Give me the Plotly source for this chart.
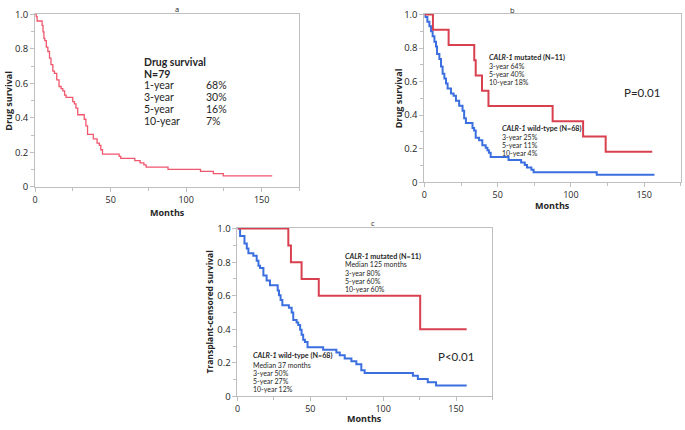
import plotly.graph_objects as go

W, H = 685, 430

# ---------------- data ----------------
x_ticks = [0, 50, 100, 150]
x_minor = [25, 75, 125, 175]
y_ticks = [0, 0.2, 0.4, 0.6, 0.8, 1.0]
y_ticklabels = ["0", "0.2", "0.4", "0.6", "0.8", "1.0"]
y_minor = [0.1, 0.3, 0.5, 0.7, 0.9]

# panel a: all patients (N=79)
a_months = [0, 0.7, 1.3, 4.6, 5.2, 5.8, 6.4, 7.4, 8.4, 9.5, 10.5, 11.7, 12.8, 14.3, 15.8,
            17.2, 18.3, 19.5, 20.5, 24.9, 26.0, 27.0, 28.2, 32.5, 33.6, 34.7, 38.5, 41.0,
            42.5, 43.5, 44.6, 55.6, 56.7, 66.0, 69.5, 72.0, 73.5, 88.0, 109.5, 118.0, 124.6, 157.0]
a_surv = [1.0, 0.987, 0.962, 0.937, 0.899, 0.861, 0.848, 0.81, 0.785, 0.747, 0.709, 0.671,
          0.658, 0.62, 0.582, 0.57, 0.557, 0.532, 0.519, 0.494, 0.481, 0.456, 0.418, 0.392,
          0.354, 0.304, 0.278, 0.253, 0.24, 0.215, 0.19, 0.177, 0.165, 0.152, 0.139, 0.127,
          0.114, 0.101, 0.089, 0.076, 0.063, 0.063]

# panel b: drug survival by CALR-1 status
b_mut_months = [0, 5.8, 16.5, 34.0, 35.0, 39.3, 43.7, 87.5, 108.3, 123.7, 155.5]
b_mut_surv = [1.0, 0.909, 0.818, 0.727, 0.636, 0.545, 0.455, 0.364, 0.273, 0.182, 0.182]

b_wt_months = [0, 0.5, 2, 3.4, 4.5, 5.6, 6.8, 7.9, 8.6, 10.2, 11.3, 12.4, 13.6, 14.7, 15.8,
               18.1, 19.9, 21.5, 23.7, 26.0, 27.1, 28.3, 32.8, 33.9, 35.0, 37.3, 39.5, 41.8,
               43.0, 44.0, 45.2, 57.4, 66, 68.5, 70, 73, 74.5, 117.6, 157]
b_wt_surv = [1.0, 0.985, 0.956, 0.93, 0.90, 0.87, 0.838, 0.809, 0.765, 0.735, 0.69, 0.647,
             0.618, 0.588, 0.559, 0.529, 0.515, 0.485, 0.456, 0.426, 0.382, 0.353, 0.324,
             0.309, 0.265, 0.25, 0.221, 0.206, 0.191, 0.176, 0.15, 0.132, 0.118, 0.103,
             0.088, 0.074, 0.059, 0.045, 0.045]

# panel c: transplant-censored survival by CALR-1 status
c_mut_months = [0, 34.9, 36.7, 44.0, 55.8, 125.4, 157.3]
c_mut_surv = [1.0, 0.9, 0.8, 0.7, 0.6, 0.4, 0.4]

c_wt_months = [0, 1.8, 4.8, 6.4, 7.5, 10.9, 13.2, 14.4, 15.5, 17.8, 20.0, 22.3, 27.6, 28.5,
               29.6, 30.8, 35.3, 37.2, 38.3, 40.6, 41.7, 43.0, 44.0, 45.1, 46.3, 48.1, 58.8,
               67.9, 70.2, 73.6, 78.2, 81.6, 85.0, 87.3, 120.4, 123.8, 130.6, 136.3, 157.3]
c_wt_surv = [1.0, 0.956, 0.912, 0.882, 0.853, 0.838, 0.809, 0.779, 0.765, 0.721, 0.691,
             0.662, 0.632, 0.603, 0.574, 0.544, 0.529, 0.50, 0.456, 0.441, 0.426, 0.397,
             0.368, 0.338, 0.324, 0.294, 0.279, 0.262, 0.245, 0.227, 0.21, 0.192, 0.157,
             0.14, 0.124, 0.104, 0.085, 0.066, 0.066]

a_rows = [("1-year", "68%"), ("3-year", "30%"), ("5-year", "16%"), ("10-year", "7%")]
b_mut_rows = ["3-year 64%", "5-year 40%", "10-year 18%"]
b_wt_rows = ["3-year 25%", "5-year 11%", "10-year 4%"]
c_mut_rows = ["Median 125 months", "3-year 80%", "5-year 60%", "10-year 60%"]
c_wt_rows = ["Median 37 months", "3-year 50%", "5-year 27%", "10-year 12%"]

# ---------------- style ----------------
RED_A = "#f0566c"
RED = "#d9404f"
BLUE = "#3b6fe0"
AXC = "#bfbfbf"
TXT = "#262626"
FONT = "Lato"
TFONT = "Open Sans"

fig = go.Figure()

def px2x(px):
    return px / W

def py2y(py):
    return 1 - py / H

# panel pixel boxes: (left, right, top, bottom)
boxes = {
    "": (32.3, 297.7, 8.0, 186.0),
    "2": (423.3, 680.8, 8.0, 181.3),
    "3": (235.5, 491.6, 228.3, 401.7),
}

def axis_x(key):
    l, r, t, b = boxes[key]
    return dict(domain=[px2x(l), px2x(r)], range=[0, 175], anchor="y" + key,
                showline=True, linecolor=AXC, linewidth=1, mirror=True,
                ticks="outside", ticklen=4, tickcolor=AXC, tickvals=x_ticks,
                ticktext=[str(v) for v in x_ticks],
                minor=dict(tickvals=x_minor, ticks="outside", ticklen=3, tickcolor=AXC),
                showgrid=False, zeroline=False, fixedrange=True,
                tickfont=dict(family=TFONT, size=9, color=TXT))

def axis_y(key):
    l, r, t, b = boxes[key]
    return dict(domain=[py2y(b), py2y(t)], range=[0, 1.004], anchor="x" + key,
                showline=True, linecolor=AXC, linewidth=1, mirror=True,
                ticks="outside", ticklen=4, tickcolor=AXC, tickvals=y_ticks,
                ticktext=y_ticklabels,
                minor=dict(tickvals=y_minor, ticks="outside", ticklen=3, tickcolor=AXC),
                showgrid=False, zeroline=False, fixedrange=True,
                tickfont=dict(family=TFONT, size=9.5, color=TXT))

def km(xs, ys, color, width, key):
    fig.add_trace(go.Scatter(x=xs, y=ys, mode="lines", line=dict(color=color, width=width, shape="hv"),
                             xaxis="x" + key, yaxis="y" + key, showlegend=False, hoverinfo="skip"))

km(a_months, a_surv, RED_A, 1.3, "")
km(b_wt_months, b_wt_surv, BLUE, 2, "2")
km(b_mut_months, b_mut_surv, RED, 2, "2")
km(c_wt_months, c_wt_surv, BLUE, 2, "3")
km(c_mut_months, c_mut_surv, RED, 2, "3")

ann = []

def txt(key, x, y, text, size, bold=False, xanchor="left"):
    ann.append(dict(xref="x" + key, yref="y" + key, x=x, y=y, text=("<b>%s</b>" % text) if bold else text,
                    showarrow=False, xanchor=xanchor, yanchor="middle", borderpad=0,
                    font=dict(family=FONT, size=size, color=TXT)))

def ptxt(px, py, text, size, bold=False, angle=0, family=FONT):
    ann.append(dict(xref="paper", yref="paper", x=px2x(px), y=py2y(py),
                    text=("<b>%s</b>" % text) if bold else text, textangle=angle,
                    showarrow=False, xanchor="center", yanchor="middle", borderpad=0,
                    font=dict(family=family, size=size, color=TXT)))

# panel a text
txt("", 71.5, 0.726, "Drug survival", 10.5, bold=True)
txt("", 71.5, 0.657, "N=79", 10.5, bold=True)
for (lab, pct), v in zip(a_rows, [0.590, 0.521, 0.449, 0.380]):
    txt("", 71.5, v, lab, 10.5)
    txt("", 112.5, v, pct, 10.5)

# panel b text
txt("2", 43.5, 0.744, "<i>CALR-1</i> mutated (N=11)", 7.2, bold=True)
for lab, v in zip(b_mut_rows, [0.694, 0.646, 0.598]):
    txt("2", 43.5, v, lab, 7)
txt("2", 135.5, 0.537, "P=0.01", 11.5)
txt("2", 52.0, 0.319, "<i>CALR-1</i> wild-type (N=68)", 7.2, bold=True)
for lab, v in zip(b_wt_rows, [0.271, 0.223, 0.177]):
    txt("2", 52.0, v, lab, 7)

# panel c text
txt("3", 72.8, 0.836, "<i>CALR-1</i> mutated (N=11)", 7.2, bold=True)
for lab, v in zip(c_mut_rows, [0.787, 0.736, 0.689, 0.640]):
    txt("3", 72.8, v, lab, 7)
txt("3", 137.0, 0.236, "P<0.01", 11.5)
txt("3", 10.2, 0.245, "<i>CALR-1</i> wild-type (N=68)", 7.2, bold=True)
for lab, v in zip(c_wt_rows, [0.190, 0.141, 0.091, 0.043]):
    txt("3", 10.2, v, lab, 7)

# panel letters
ptxt(175.0, 3.5, "a", 7.5, family=TFONT)
ptxt(511.7, 4.3, "b", 7.5, family=TFONT)
ptxt(371.7, 223.0, "c", 7.5, family=TFONT)

# axis titles
ptxt(165.0, 212.5, "Months", 9, bold=True, family=TFONT)
ptxt(552.0, 205.0, "Months", 9, bold=True, family=TFONT)
ptxt(363.5, 424.5, "Months", 9, bold=True, family=TFONT)
ptxt(5.5, 97.0, "Drug survival", 9, bold=True, angle=-90, family=TFONT)
ptxt(396.7, 95.0, "Drug survival", 9, bold=True, angle=-90, family=TFONT)
ptxt(207.3, 315.0, "Transplant-censored survival", 8.5, bold=True, angle=-90, family=TFONT)

layout = dict(width=W, height=H, margin=dict(l=0, r=0, t=0, b=0),
              paper_bgcolor="white", plot_bgcolor="white", annotations=ann, showlegend=False)
for key in ["", "2", "3"]:
    layout["xaxis" + key] = axis_x(key)
    layout["yaxis" + key] = axis_y(key)
fig.update_layout(**layout)

fig.write_html("out.html", config={"displayModeBar": False},
               post_script="document.body.style.margin='0px';document.body.style.overflow='hidden';")
